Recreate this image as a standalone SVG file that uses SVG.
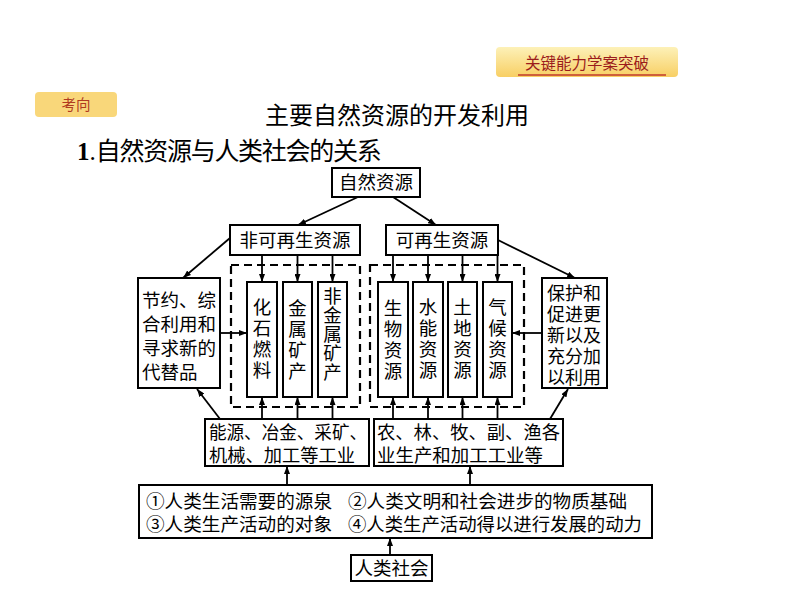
<svg xmlns="http://www.w3.org/2000/svg" width="794" height="596" viewBox="0 0 794 596">
<defs>
<linearGradient id="gbadge" x1="0" y1="0" x2="0" y2="1">
<stop offset="0" stop-color="#fdf1b8"/>
<stop offset="1" stop-color="#f8cf64"/>
</linearGradient>
<marker id="ah" viewBox="0 0 8 6" markerWidth="8" markerHeight="6" refX="8" refY="3" orient="auto" markerUnits="userSpaceOnUse">
<path d="M0,0 L8,3 L0,6 z" fill="#000"/>
</marker>
<style>
.box{fill:#fff;stroke:#000;stroke-width:2}
.dash{fill:none;stroke:#000;stroke-width:2.2;stroke-dasharray:8 5}
.t{font-family:"Liberation Sans","Noto Sans CJK SC",sans-serif;font-size:18.5px;fill:#000}
.s{font-size:18px}
.c{text-anchor:middle}
.v{font-family:"Noto Sans CJK SC",sans-serif;writing-mode:vertical-rl;text-anchor:middle;letter-spacing:2.5px}
.v5{font-family:"Noto Sans CJK SC",sans-serif;writing-mode:vertical-rl;text-anchor:middle;letter-spacing:0.5px}
.con line{stroke:#000;stroke-width:1.8;marker-end:url(#ah)}
</style>
</defs>
<rect width="794" height="596" fill="#fff"/>

<g id="badge-top">
<rect x="496" y="47" width="182" height="30" rx="4" fill="url(#gbadge)"/>
<line x1="518" y1="75" x2="666" y2="75" stroke="#c0392b" stroke-width="1.5"/>
<text x="587" y="69" text-anchor="middle" font-family="Noto Sans CJK SC,sans-serif" font-size="15.5" fill="#9b1c1c">关键能力学案突破</text>
</g>
<g id="badge-kaoxiang">
<rect x="35" y="92" width="82" height="25" rx="4" fill="#f9d77a"/>
<text x="76" y="110" text-anchor="middle" font-family="Noto Sans CJK SC,sans-serif" font-size="14.5" fill="#b03a20">考向</text>
</g>
<text x="397" y="124" text-anchor="middle" font-family="Noto Sans CJK SC,sans-serif" font-size="24" fill="#000">主要自然资源的开发利用</text>
<text x="77" y="160" font-family="Noto Sans CJK SC,sans-serif" font-size="25" fill="#000"><tspan font-family="Liberation Serif,serif" font-weight="bold">1</tspan><tspan font-family="Liberation Serif,serif">.</tspan><tspan textLength="286" lengthAdjust="spacing">自然资源与人类社会的关系</tspan></text>

<g id="n-ziran"><rect class="box" x="332" y="168" width="88" height="29"/><text class="t c" x="376" y="189">自然资源</text></g>
<g id="n-feikezaisheng"><rect class="box" x="230" y="225" width="130" height="30"/><text class="t c" x="295" y="247">非可再生资源</text></g>
<g id="n-kezaisheng"><rect class="box" x="386" y="225" width="112" height="30"/><text class="t c" x="442" y="247">可再生资源</text></g>

<g id="g-dash-left"><rect class="dash" x="231" y="265" width="129" height="142"/></g>
<g id="g-dash-right"><rect class="dash" x="370" y="265" width="154" height="142"/></g>

<g id="n-huashi"><rect class="box" x="247" y="282" width="30" height="115"/><text class="t v" x="262" y="339.5">化石燃料</text></g>
<g id="n-jinshu"><rect class="box" x="283" y="282" width="29" height="115"/><text class="t v" x="297.5" y="341">金属矿产</text></g>
<g id="n-feijinshu"><rect class="box" x="318" y="282" width="29" height="115"/><text class="t v5" x="332.5" y="334">非金属矿产</text></g>

<g id="n-shengwu"><rect class="box" x="378" y="282" width="30" height="115"/><text class="t v" x="393" y="341">生物资源</text></g>
<g id="n-shuineng"><rect class="box" x="413" y="282" width="30" height="115"/><text class="t v" x="428" y="339.5">水能资源</text></g>
<g id="n-tudi"><rect class="box" x="448" y="282" width="29" height="115"/><text class="t v" x="462.5" y="339.5">土地资源</text></g>
<g id="n-qihou"><rect class="box" x="483" y="282" width="29" height="115"/><text class="t v" x="497.5" y="339.5">气候资源</text></g>

<g id="n-jieyue"><rect class="box" x="138" y="278" width="82" height="110"/><text class="t"><tspan x="142" y="307">节约、综</tspan><tspan x="142" y="331">合利用和</tspan><tspan x="142" y="355">寻求新的</tspan><tspan x="142" y="379">代替品</tspan></text></g>
<g id="n-baohu"><rect class="box" x="542" y="278" width="65" height="110"/><text class="t s"><tspan x="547" y="300">保护和</tspan><tspan x="547" y="321">促进更</tspan><tspan x="547" y="342">新以及</tspan><tspan x="547" y="363">充分加</tspan><tspan x="547" y="384">以利用</tspan></text></g>

<g id="n-nengyuan"><rect class="box" x="205" y="419" width="164" height="47"/><text class="t s"><tspan x="209" y="439" textLength="158" lengthAdjust="spacingAndGlyphs">能源、冶金、采矿、</tspan><tspan x="209" y="462" textLength="146" lengthAdjust="spacingAndGlyphs">机械、加工等工业</tspan></text></g>
<g id="n-nonglin"><rect class="box" x="374" y="419" width="189" height="47"/><text class="t s"><tspan x="377" y="439" textLength="183" lengthAdjust="spacingAndGlyphs">农、林、牧、副、渔各</tspan><tspan x="377" y="462" textLength="166" lengthAdjust="spacingAndGlyphs">业生产和加工工业等</tspan></text></g>

<g id="n-yiyi"><rect class="box" x="139" y="485" width="513" height="53"/><text class="t s"><tspan x="146" y="508" textLength="186" lengthAdjust="spacingAndGlyphs">①人类生活需要的源泉</tspan><tspan x="348" y="508" textLength="279" lengthAdjust="spacingAndGlyphs">②人类文明和社会进步的物质基础</tspan><tspan x="146" y="531" textLength="186" lengthAdjust="spacingAndGlyphs">③人类生产活动的对象</tspan><tspan x="348" y="531" textLength="294" lengthAdjust="spacingAndGlyphs">④人类生产活动得以进行发展的动力</tspan></text></g>
<g id="n-renlei"><rect class="box" x="351" y="555" width="81" height="26"/><text class="t c" x="391.5" y="575">人类社会</text></g>

<g id="connectors" class="con">
<line x1="358" y1="197" x2="298" y2="225"/>
<line x1="393" y1="197" x2="436" y2="225"/>
<line x1="262" y1="255" x2="262" y2="282"/>
<line x1="297.5" y1="255" x2="297.5" y2="282"/>
<line x1="332.5" y1="255" x2="332.5" y2="282"/>
<line x1="393" y1="255" x2="393" y2="282"/>
<line x1="428" y1="255" x2="428" y2="282"/>
<line x1="462.5" y1="255" x2="462.5" y2="282"/>
<line x1="497.5" y1="255" x2="497.5" y2="282"/>
<line x1="230" y1="238" x2="183" y2="278"/>
<line x1="498" y1="240" x2="575" y2="278"/>
<line x1="220" y1="333" x2="247" y2="333"/>
<line x1="542" y1="333" x2="512" y2="333"/>
<line x1="220" y1="419" x2="197" y2="389"/>
<line x1="550" y1="419" x2="568" y2="389"/>
<line x1="262" y1="419" x2="262" y2="397"/>
<line x1="297.5" y1="419" x2="297.5" y2="397"/>
<line x1="332.5" y1="419" x2="332.5" y2="397"/>
<line x1="393" y1="419" x2="393" y2="397"/>
<line x1="428" y1="419" x2="428" y2="397"/>
<line x1="462.5" y1="419" x2="462.5" y2="397"/>
<line x1="497.5" y1="419" x2="497.5" y2="397"/>
<line x1="287" y1="485" x2="287" y2="466"/>
<line x1="470" y1="485" x2="470" y2="466"/>
<line x1="390" y1="555" x2="390" y2="538"/>
</g>
</svg>
